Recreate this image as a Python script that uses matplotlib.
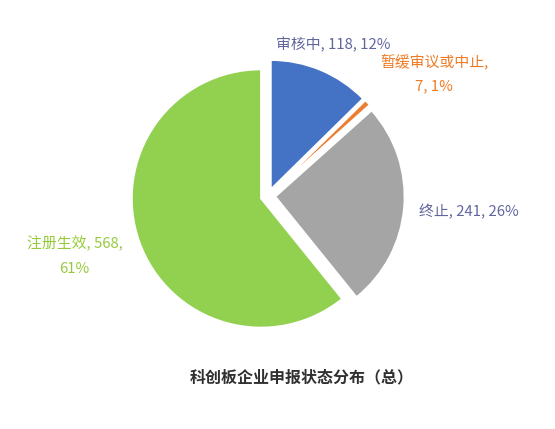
import matplotlib
matplotlib.use('Agg')
import matplotlib.pyplot as plt

plt.rcParams['font.family'] = ['Noto Sans CJK SC', 'DejaVu Sans']

# data
labels = ['审核中', '暂缓审议或中止', '终止', '注册生效']
counts = [118, 7, 241, 568]
percents = ['12%', '1%', '26%', '61%']
colors = ['#4472C4', '#ED7D31', '#A5A5A5', '#92D050']
label_colors = ['#62649E', '#F07A22', '#62649E', '#95CA3A']
title = '科创板企业申报状态分布（总）'


def main():
    fig = plt.figure(figsize=(5.55, 4.29), dpi=100)
    # one data unit = 129 px, pie centre at (268, 196) px from top-left
    ax = fig.add_axes([(268 - 193.5) / 555, (233 - 193.5) / 429, 387 / 555, 387 / 429])
    ax.pie(counts, colors=colors, startangle=90, counterclock=False,
           explode=[0.058] * 4,
           wedgeprops=dict(edgecolor='white', linewidth=1.2))
    ax.set_xlim(-1.5, 1.5)
    ax.set_ylim(-1.5, 1.5)
    ax.set_aspect('equal')
    ax.axis('off')

    # data labels
    ax.text(0.504, 1.17, f'{labels[0]}, {counts[0]}, {percents[0]}',
            color=label_colors[0], fontsize=10.7, ha='center', va='center')
    ax.text(1.29, 0.95, f'{labels[1]},\n{counts[1]}, {percents[1]}',
            color=label_colors[1], fontsize=10.7, ha='center', va='center',
            linespacing=1.9)
    ax.text(1.56, -0.124, f'{labels[2]}, {counts[2]}, {percents[2]}',
            color=label_colors[2], fontsize=10.7, ha='center', va='center')
    ax.text(-1.50, -0.465, f'{labels[3]}, {counts[3]},\n{percents[3]}',
            color=label_colors[3], fontsize=10.7, ha='center', va='center',
            linespacing=2.0)

    fig.text(302 / 555, 1 - 377 / 429, title, fontsize=11.5, fontweight='bold',
             color='#303030', ha='center', va='center')
    fig.savefig('out.png', dpi=100)


if __name__ == '__main__':
    main()
